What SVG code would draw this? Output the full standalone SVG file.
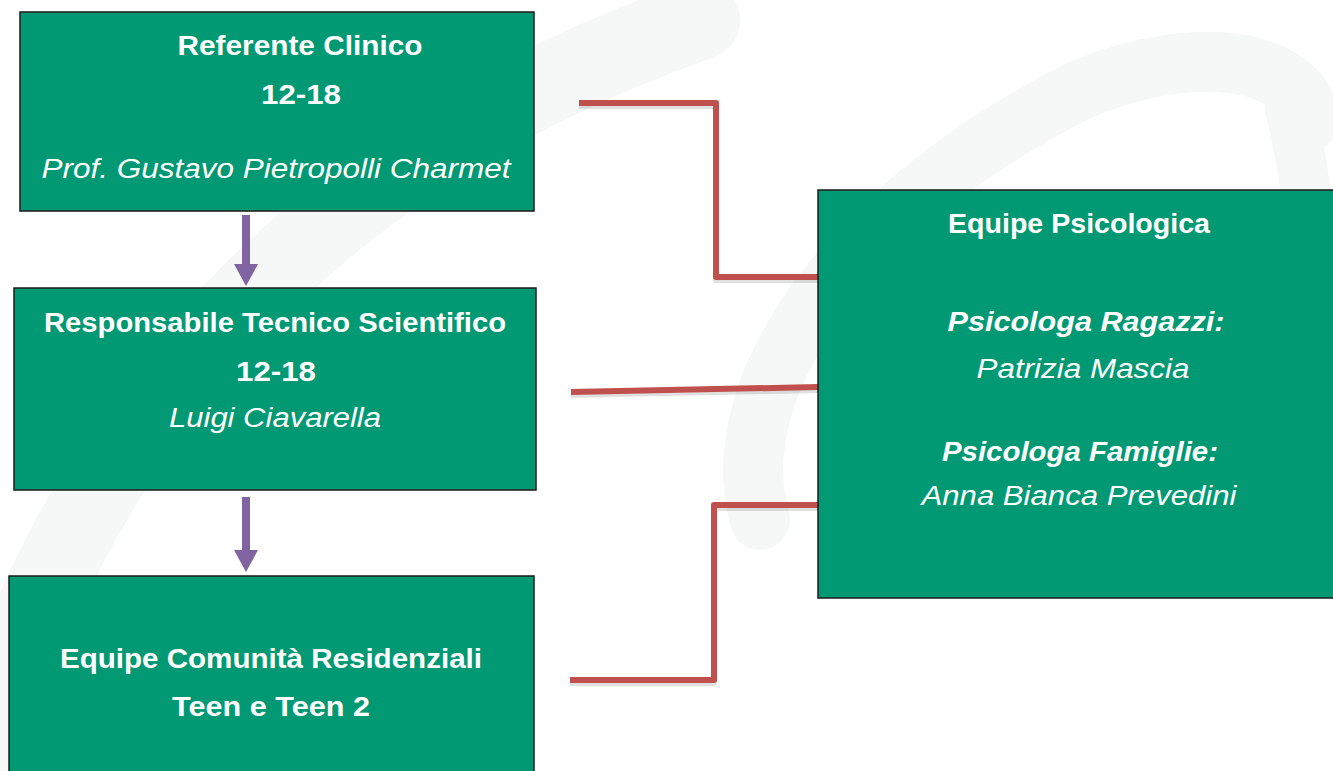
<svg xmlns="http://www.w3.org/2000/svg" width="1333" height="771" viewBox="0 0 1333 771">
<defs>
<style>
.box{fill:#009974;stroke:#1a1a1a;stroke-width:1.5}
.t{font-family:"Liberation Sans",Arial,sans-serif;fill:#ffffff;text-anchor:middle;font-size:27px}
.b{font-weight:bold}
.i{font-style:italic}
.red{fill:none;stroke:#c0504d;stroke-width:6;stroke-linejoin:round}
.sh{fill:none;stroke:#000;stroke-opacity:0.12;stroke-width:6;stroke-linejoin:round}
.wm{fill:none;stroke:#f5f8f6;stroke-linecap:round}
.arr{fill:#8064a2}
</style>
</defs>
<rect width="1333" height="771" fill="#ffffff"/>
<g id="watermark">
<path class="wm" stroke-width="80" d="M-20,760 C80,430 300,160 700,20"/>
<path class="wm" stroke-width="60" d="M760,520 C720,380 860,200 1080,90 C1200,40 1300,60 1310,120"/>
<path class="wm" stroke-width="50" d="M1290,110 C1340,300 1300,560 1220,560 C1150,560 1120,470 1100,380"/>
</g>
<g id="connectors">
<path class="sh" d="M579,106 H716 V280 H818"/>
<path class="red" d="M579,103 H716 V277 H818"/>
<path class="sh" d="M571,395 L818,390"/>
<path class="red" d="M571,392 L818,387"/>
<path class="sh" d="M570,683 H714 V508 H818"/>
<path class="red" d="M570,680 H714 V505 H818"/>
<path class="arr" d="M242,215 H250 V264 H258 L246,286 L234,264 H242 Z"/>
<path class="arr" d="M242,497 H250 V550 H258 L246,572 L234,550 H242 Z"/>
</g>
<g id="referente">
<rect class="box" x="20" y="12" width="514" height="199"/>
<text class="t b" x="300" y="55" textLength="245" lengthAdjust="spacingAndGlyphs">Referente Clinico</text>
<text class="t b" x="301" y="104" textLength="80" lengthAdjust="spacingAndGlyphs">12-18</text>
<text class="t i" x="276" y="178" textLength="469" lengthAdjust="spacingAndGlyphs">Prof. Gustavo Pietropolli Charmet</text>
</g>
<g id="responsabile">
<rect class="box" x="14" y="288" width="522" height="202"/>
<text class="t b" x="275" y="332" textLength="462" lengthAdjust="spacingAndGlyphs">Responsabile Tecnico Scientifico</text>
<text class="t b" x="276" y="381" textLength="80" lengthAdjust="spacingAndGlyphs">12-18</text>
<text class="t i" x="275" y="427" textLength="212" lengthAdjust="spacingAndGlyphs">Luigi Ciavarella</text>
</g>
<g id="equipe-comunita">
<rect class="box" x="9" y="576" width="525" height="200"/>
<text class="t b" x="271" y="668" textLength="422" lengthAdjust="spacingAndGlyphs">Equipe Comunità Residenziali</text>
<text class="t b" x="271" y="716" textLength="198" lengthAdjust="spacingAndGlyphs">Teen e Teen 2</text>
</g>
<g id="equipe-psicologica">
<rect class="box" x="818" y="190" width="520" height="408"/>
<text class="t b" x="1079" y="233" textLength="262" lengthAdjust="spacingAndGlyphs">Equipe Psicologica</text>
<text class="t b i" x="1086" y="331" textLength="277" lengthAdjust="spacingAndGlyphs">Psicologa Ragazzi:</text>
<text class="t i" x="1083" y="378" textLength="213" lengthAdjust="spacingAndGlyphs">Patrizia Mascia</text>
<text class="t b i" x="1080" y="461" textLength="276" lengthAdjust="spacingAndGlyphs">Psicologa Famiglie:</text>
<text class="t i" x="1079" y="505" textLength="315" lengthAdjust="spacingAndGlyphs">Anna Bianca Prevedini</text>
</g>
</svg>
